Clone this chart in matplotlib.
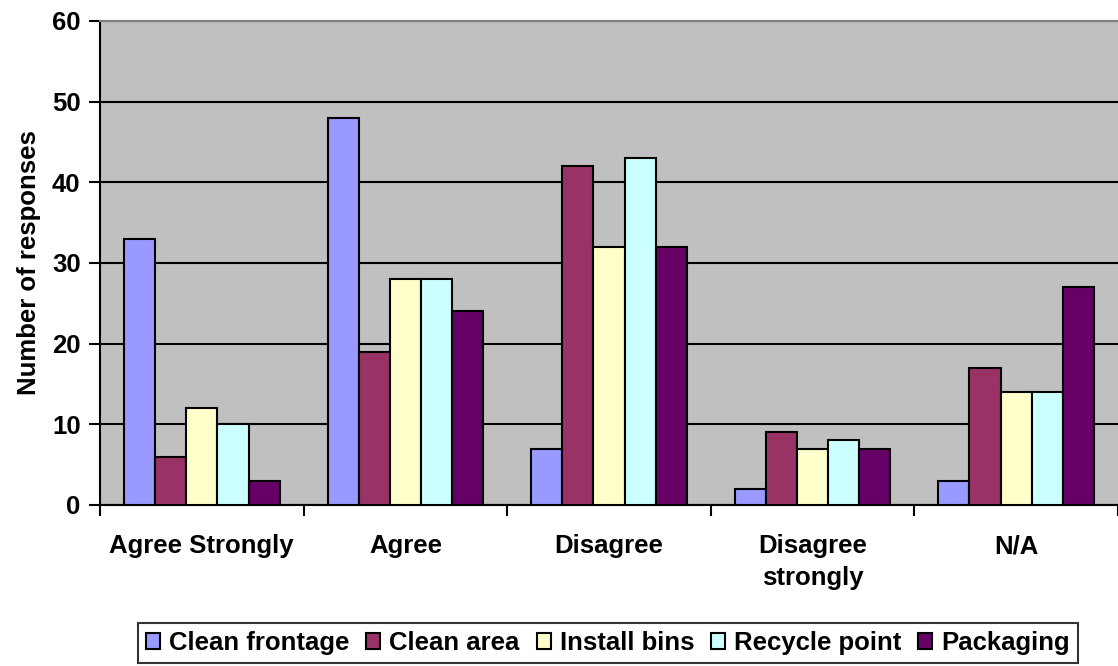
import numpy as np
import matplotlib.pyplot as plt

plt.rcParams['font.family'] = ['Liberation Sans', 'DejaVu Sans']
plt.rcParams['font.weight'] = 'bold'

categories = ['Agree Strongly', 'Agree', 'Disagree', 'Disagree\nstrongly', 'N/A']
series = ['Clean frontage', 'Clean area', 'Install bins', 'Recycle point', 'Packaging']
clean_frontage = [33, 48, 7, 2, 3]
clean_area = [6, 19, 42, 9, 17]
install_bins = [12, 28, 32, 7, 14]
recycle_point = [10, 28, 43, 8, 14]
packaging = [3, 24, 32, 7, 27]
colors = ['#9999FF', '#993366', '#FFFFCC', '#CCFFFF', '#660066']

values = [clean_frontage, clean_area, install_bins, recycle_point, packaging]
fs = 18.5

fig = plt.figure(figsize=(11.18, 6.66), dpi=100)
ax = fig.add_axes([100 / 1118, 1 - 505 / 666, 1 - 100 / 1118, (505 - 21) / 666])
ax.set_facecolor('#C0C0C0')

x = np.arange(len(categories))
width = 0.153
for i, (name, vals, col) in enumerate(zip(series, values, colors)):
    ax.bar(x + (i - 2) * width, vals, width, color=col, edgecolor='black',
           linewidth=1.5, label=name, zorder=3)

ax.set_ylim(0, 60)
ax.set_xlim(-0.5, len(categories) - 0.5)
ax.set_yticks(range(0, 61, 10))
ax.yaxis.grid(True, color='black', linewidth=1.5, zorder=1)
ax.set_axisbelow(True)

# category labels sit between boundary ticks
ax.set_xticks(np.arange(-0.5, len(categories), 1.0))
ax.set_xticklabels([])
ax.set_xticks(x, minor=True)
ax.set_xticklabels(categories, minor=True, fontsize=fs, fontweight='bold',
                   linespacing=1.4)
ax.tick_params(axis='x', which='minor', length=0, pad=21)
ax.tick_params(axis='x', which='major', length=8, width=1.5, direction='out')
ax.tick_params(axis='y', length=8, width=1.5, direction='out', labelsize=fs, pad=6)
for lab in ax.get_yticklabels():
    lab.set_fontweight('bold')

ax.spines['left'].set_linewidth(1.5)
ax.spines['bottom'].set_linewidth(1.5)
ax.spines['top'].set_color('#808080')
ax.spines['top'].set_linewidth(1.5)
ax.spines['right'].set_visible(False)

ax.set_ylabel('Number of responses', fontsize=fs, fontweight='bold', labelpad=8)

leg = fig.legend(loc='center', bbox_to_anchor=(608 / 1118, 1 - 643 / 666), ncol=5,
                 frameon=True, fancybox=False, edgecolor='black',
                 prop={'size': fs, 'weight': 'bold'},
                 handlelength=0.55, handleheight=0.55, handletextpad=0.35,
                 columnspacing=0.65, borderpad=0.3, borderaxespad=0)
leg.get_frame().set_linewidth(1.5)

fig.savefig('out.png', dpi=100)
